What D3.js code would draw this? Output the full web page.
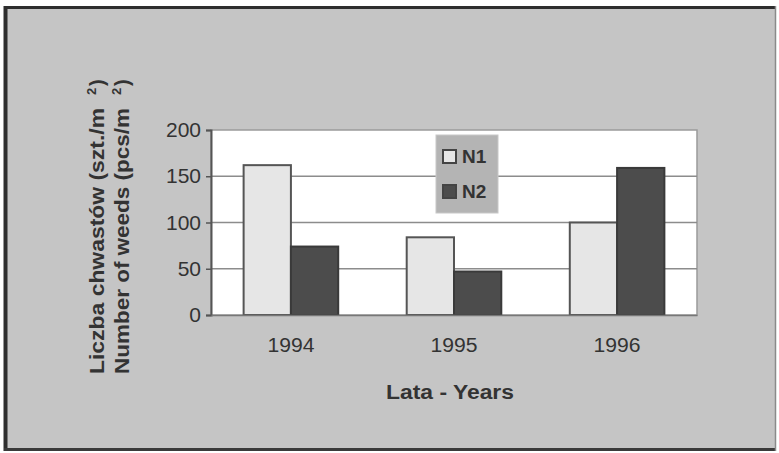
<!DOCTYPE html>
<html>
<head>
<meta charset="utf-8">
<script src="https://cdn.jsdelivr.net/npm/d3@7"></script>
<style>
  html, body { margin: 0; padding: 0; background: #ffffff; }
  svg { display: block; font-family: Arial, "Liberation Sans", sans-serif; }
</style>
</head>
<body>
<svg id="chart" width="779" height="453"></svg>
<script>
// Weed counts per year for the two nitrogen levels
const years = ["1994", "1995", "1996"];
const seriesNames = ["N1", "N2"];
const n1Values = [162, 84, 100];
const n2Values = [74, 47, 159];
const yTicks = [0, 50, 100, 150, 200];

const seriesColors = { N1: "#e6e6e6", N2: "#4c4c4c" };
const values = { N1: n1Values, N2: n2Values };

const svg = d3.select("#chart");

// Page frame: grey panel with a dark scanned border on top/left/bottom
svg.append("rect").attr("x", 4).attr("y", 6).attr("width", 772).attr("height", 445)
  .attr("fill", "#c5c5c5");
svg.append("line").attr("x1", 4).attr("x2", 776).attr("y1", 7.5).attr("y2", 7.5)
  .attr("stroke", "#2e2e2e").attr("stroke-width", 3);
svg.append("line").attr("x1", 5.5).attr("x2", 5.5).attr("y1", 6).attr("y2", 451)
  .attr("stroke", "#2e2e2e").attr("stroke-width", 4);
svg.append("line").attr("x1", 4).attr("x2", 776).attr("y1", 449.5).attr("y2", 449.5)
  .attr("stroke", "#3a3a3a").attr("stroke-width", 3);
svg.append("line").attr("x1", 775.5).attr("x2", 775.5).attr("y1", 6).attr("y2", 451)
  .attr("stroke", "#8a8a8a").attr("stroke-width", 1.5);

// Plot area
const plot = { left: 211, right: 697, top: 130, bottom: 315 };

const x = d3.scaleBand().domain(years)
  .range([plot.left, plot.right]).paddingInner(0.42).paddingOuter(0.2);
const xs = d3.scaleBand().domain(seriesNames).range([0, x.bandwidth()]);
const y = d3.scaleLinear().domain([0, 200]).range([plot.bottom, plot.top]);

svg.append("rect")
  .attr("x", plot.left).attr("y", plot.top)
  .attr("width", plot.right - plot.left).attr("height", plot.bottom - plot.top)
  .attr("fill", "#ffffff").attr("stroke", "#9a9a9a").attr("stroke-width", 1.5);

// Horizontal gridlines
svg.append("g").selectAll("line")
  .data(yTicks.filter(t => t > 0 && t < 200))
  .join("line")
  .attr("x1", plot.left).attr("x2", plot.right)
  .attr("y1", d => y(d)).attr("y2", d => y(d))
  .attr("stroke", "#8c8c8c").attr("stroke-width", 1.5);

// Bars
const groups = svg.append("g").selectAll("g")
  .data(years)
  .join("g")
  .attr("transform", d => `translate(${x(d)},0)`);

groups.selectAll("rect")
  .data((d, i) => seriesNames.map(s => ({ s, v: values[s][i] })))
  .join("rect")
  .attr("x", d => xs(d.s))
  .attr("y", d => y(d.v))
  .attr("width", xs.bandwidth())
  .attr("height", d => y(0) - y(d.v))
  .attr("fill", d => seriesColors[d.s])
  .attr("stroke", d => d.s === "N1" ? "#555555" : "#3a3a3a")
  .attr("stroke-width", 2);

// Y axis
const yAxis = svg.append("g")
  .attr("transform", `translate(${plot.left},0)`)
  .call(d3.axisLeft(y).tickValues(yTicks).tickSize(5).tickPadding(5));
yAxis.select(".domain").attr("stroke", "#555555").attr("stroke-width", 2);
yAxis.selectAll(".tick line").attr("stroke", "#555555").attr("stroke-width", 1.5);
yAxis.selectAll(".tick text")
  .attr("font-size", 21).attr("fill", "#333333")
  .attr("font-family", "Arial, 'Liberation Sans', sans-serif");

// X axis labels
const xAxis = svg.append("g")
  .attr("transform", `translate(0,${plot.bottom})`)
  .call(d3.axisBottom(x).tickSize(0).tickPadding(23));
xAxis.select(".domain").attr("stroke", "#777777").attr("stroke-width", 1.5);
xAxis.selectAll(".tick text")
  .attr("font-size", 20).attr("fill", "#333333")
  .attr("textLength", 47).attr("lengthAdjust", "spacingAndGlyphs")
  .attr("font-family", "Arial, 'Liberation Sans', sans-serif");

// X axis title
svg.append("text")
  .attr("x", 450).attr("y", 399)
  .attr("text-anchor", "middle")
  .attr("font-size", 20).attr("font-weight", "bold").attr("fill", "#333333")
  .attr("textLength", 128).attr("lengthAdjust", "spacingAndGlyphs")
  .text("Lata - Years");

// Y axis titles (two rotated lines, with superscript unit)
const yTitles = [
  { main: "Liczba chwastów (szt./m", bx: 104 },
  { main: "Number of weeds (pcs/m", bx: 129 }
];
yTitles.forEach(t => {
  const g = svg.append("g").attr("transform", `translate(${t.bx},374) rotate(-90)`);
  g.append("text")
    .attr("x", 0).attr("y", 0)
    .attr("font-size", 20).attr("font-weight", "bold").attr("fill", "#333333")
    .attr("textLength", 266).attr("lengthAdjust", "spacingAndGlyphs")
    .text(t.main);
  g.append("text")
    .attr("x", 279).attr("y", -8)
    .attr("font-size", 13).attr("font-weight", "bold").attr("fill", "#333333")
    .text("2");
  g.append("text")
    .attr("x", 288).attr("y", 0)
    .attr("font-size", 20).attr("font-weight", "bold").attr("fill", "#333333")
    .text(")");
});

// Legend
const legend = svg.append("g").attr("transform", "translate(436,135)");
legend.append("rect")
  .attr("width", 62).attr("height", 78)
  .attr("fill", "#b4b4b4").attr("stroke", "#c8c8c8").attr("stroke-width", 1);
seriesNames.forEach((s, i) => {
  const row = legend.append("g").attr("transform", `translate(7,${15 + i * 35})`);
  row.append("rect")
    .attr("width", 13).attr("height", 13)
    .attr("fill", seriesColors[s])
    .attr("stroke", "#444444").attr("stroke-width", 2);
  row.append("text")
    .attr("x", 19).attr("y", 13)
    .attr("font-size", 19).attr("font-weight", "bold").attr("fill", "#333333")
    .text(s);
});
</script>
</body>
</html>
